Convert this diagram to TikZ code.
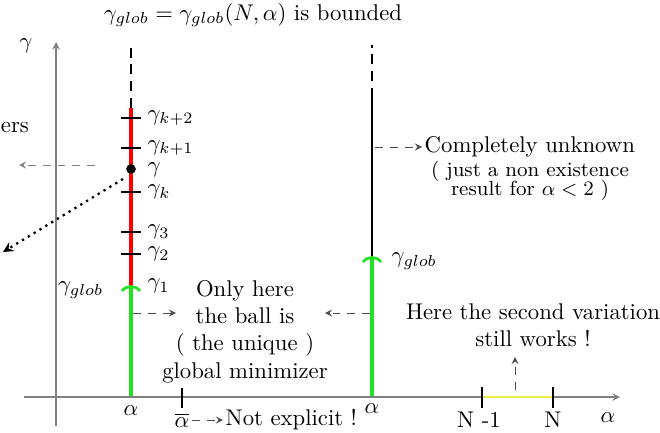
\documentclass[tikz,border=0pt]{standalone}
\usepackage{amsmath}
\usepackage{amssymb}
\usepackage{xcolor}
\usepackage{tikz}
\usetikzlibrary{arrows}
\tikzstyle{axis} = [draw, gray, line width=0.5pt, ->, >=stealth]
\tikzstyle{dashline} = [draw, black, line width=0.8pt, dash pattern=on 4.4pt off 3pt]
\tikzstyle{redline} = [draw, bred, line width=1.4pt]
\tikzstyle{greenline} = [draw, bgreen, line width=1.4pt]
\tikzstyle{greencap} = [draw, bgreen, line width=1.2pt]
\tikzstyle{blackline} = [draw, black, line width=0.8pt]
\tikzstyle{tick} = [draw, black, line width=0.7pt]
\tikzstyle{pointer} = [draw, gray!60!black, line width=0.4pt, dash pattern=on 3.5pt off 3pt, ->, >=stealth]
\tikzstyle{lbl} = [inner sep=1pt]
\tikzstyle{txt} = [align=center, inner sep=1pt]
\definecolor{bred}{HTML}{FF0000}
\definecolor{bgreen}{HTML}{22E022}
\definecolor{byellow}{HTML}{EEEE40}

\begin{document}
\begin{tikzpicture}[x=4.4pt, y=-4.4pt]
    \useasboundingbox (0,0) rectangle (66,43.2);

    % axes
    \coordinate (xbeg) at (2.4,39.7);
    \coordinate (xend) at (62,39.7);
    \coordinate (ybeg) at (5.6,42.6);
    \coordinate (yend) at (5.6,4.2);
    \path[axis] (xbeg) -- (xend);
    \path[axis] (ybeg) -- (yend);
    \node at (2.6,4.6) (gam) {$\gamma$};
    \node at (60.8,41.8) (alph) {$\alpha$};

    \node at (25.3,1.5) (title) {$\gamma_{glob} = \gamma_{glob}(N,\alpha)$ is bounded};

    % left vertical
    \coordinate (a0) at (13.1,39.6);
    \coordinate (a1) at (13.1,28.7);
    \coordinate (a2) at (13.1,10.8);
    \coordinate (a3) at (13.1,4.5);
    \path[dashline] (a2) -- (a3);
    \path[redline] (a1) -- (a2);
    \path[greenline] (a0) -- (a1);
    \path[greencap] (12.2,29.1) .. controls (12.6,28.5) and (13.6,28.5) .. (14.0,29.1);
    \foreach \y/\k/\nm in {11.8/{k+2}/g5, 14.8/{k+1}/g4, 19.2/k/g3, 23.2/3/g2, 25.4/2/g1}{
        \path[tick] (12.1,\y) -- (14.1,\y);
        \node[lbl, anchor=west] at (14.5,\y) (\nm) {$\gamma_{\k}$};
    }
    \node[lbl, anchor=west] at (14.5,28.6) (g0) {$\gamma_1$};
    \node[lbl, anchor=east] at (10.6,29.0) (glob1) {$\gamma_{glob}$};
    \node[circle, fill=black, inner sep=1.5pt] at (13.1,16.9) (dot) {};
    \node[lbl, anchor=west] at (14.5,17.0) (gdot) {$\gamma$};
    \node[lbl, anchor=west, inner sep=0pt] at (0.05,12.8) (ers) {ers};

    \coordinate (h0) at (9.5,16.5);
    \coordinate (h1) at (1.9,16.5);
    \path[pointer, gray] (h0) -- (h1);
    \coordinate (d0) at (12.3,17.9);
    \coordinate (d1) at (0.3,25.2);
    \path[draw, black, line width=1pt, dotted, ->, >=stealth] (d0) -- (d1);

    % middle vertical
    \coordinate (b0) at (37.2,39.6);
    \coordinate (b1) at (37.2,25.8);
    \coordinate (b2) at (37.2,9.8);
    \coordinate (b3) at (37.2,4.5);
    \path[dashline] (b2) -- (b3);
    \path[blackline] (b1) -- (b2);
    \path[greenline] (b0) -- (b1);
    \path[greencap] (36.3,26.2) .. controls (36.7,25.6) and (37.7,25.6) .. (38.1,26.2);
    \node[lbl, anchor=west] at (38.9,26.1) (glob2) {$\gamma_{glob}$};

    \node[txt, anchor=west] at (42.2,14.7) (unknown) {Completely unknown};
    \node[txt, font=\small] at (53.0,18.1) (nonex) {( just a non existence\\[-2.5pt] result for $\alpha<2$ )};
    \coordinate (c0) at (37.5,14.7);
    \path[pointer] (c0) -- (unknown.west);

    % global minimizer
    \node[txt] at (24.5,33.15) (only) {Only here\\ the ball is\\ ( the unique )\\ global minimizer};
    \coordinate (e0) at (13.3,31.3);
    \coordinate (e1) at (17.6,31.3);
    \path[pointer] (e0) -- (e1);
    \coordinate (f0) at (37.0,31.3);
    \coordinate (f1) at (32.5,31.3);
    \path[pointer] (f0) -- (f1);

    % second variation
    \node[txt] at (53.3,32.5) (second) {Here the second variation\\ still works !};
    \path[draw, byellow, line width=1.3pt] (48.2,39.7) -- (55.3,39.7);
    \path[tick] (48.2,38.7) -- (48.2,40.8);
    \path[tick] (55.3,38.7) -- (55.3,40.8);
    \coordinate (s0) at (51.5,39.0);
    \coordinate (s1) at (51.5,35.7);
    \path[pointer] (s0) -- (s1);
    \node at (47.9,42.0) (nm1) {N -1};
    \node at (55.3,42.0) (nn) {N};

    % bottom labels
    \node at (13.1,41.1) (alpha1) {$\alpha$};
    \path[tick] (18.2,38.8) -- (18.2,40.8);
    \node[lbl] at (18.2,42.0) (abar) {$\overline{\alpha}$};
    \node[lbl, anchor=west] at (22.3,42.0) (notexp) {Not explicit !};
    \path[pointer] (abar.east) -- (notexp.west);
    \node at (37.2,40.9) (alpha2) {$\alpha$};
\end{tikzpicture}
\end{document}
